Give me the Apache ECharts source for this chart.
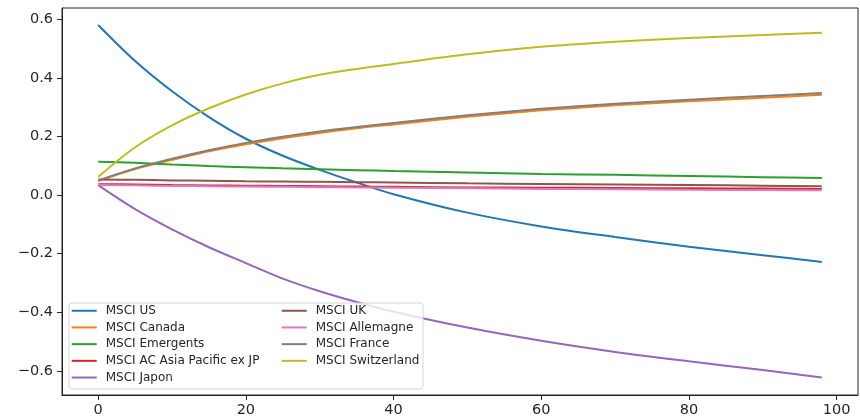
<!DOCTYPE html>
<html>
<head>
<meta charset="utf-8">
<script src="https://cdn.jsdelivr.net/npm/echarts@6/dist/echarts.min.js"></script>
<style>
  html, body { margin: 0; padding: 0; background: #fff; }
  #chart { width: 860px; height: 416px; }
</style>
</head>
<body>
<div id="chart"></div>
<script>
// Horizon (x) values at which each curve is sampled
const steps = [0, 5, 10, 15, 20, 25, 30, 35, 40, 50, 60, 70, 80, 90, 98];

const msciUS          = [0.580, 0.457, 0.354, 0.266, 0.192, 0.134, 0.086, 0.043, 0.003, -0.060, -0.107, -0.143, -0.176, -0.205, -0.228];
const msciCanada      = [0.048, 0.089, 0.120, 0.149, 0.173, 0.194, 0.212, 0.228, 0.241, 0.267, 0.289, 0.306, 0.320, 0.332, 0.342];
const msciEmergents   = [0.114, 0.110, 0.104, 0.099, 0.095, 0.091, 0.088, 0.085, 0.082, 0.077, 0.072, 0.069, 0.065, 0.061, 0.058];
const msciAsiaPacific = [0.037, 0.036, 0.034, 0.033, 0.032, 0.031, 0.030, 0.029, 0.028, 0.026, 0.025, 0.024, 0.023, 0.022, 0.021];
const msciJapon       = [0.034, -0.048, -0.117, -0.178, -0.232, -0.285, -0.328, -0.365, -0.398, -0.452, -0.497, -0.535, -0.567, -0.597, -0.622];
const msciUK          = [0.053, 0.052, 0.050, 0.049, 0.047, 0.046, 0.045, 0.044, 0.043, 0.040, 0.038, 0.036, 0.034, 0.032, 0.030];
const msciAllemagne   = [0.034, 0.033, 0.031, 0.030, 0.029, 0.028, 0.027, 0.026, 0.025, 0.023, 0.021, 0.020, 0.018, 0.017, 0.016];
const msciFrance      = [0.050, 0.091, 0.124, 0.153, 0.178, 0.199, 0.217, 0.232, 0.246, 0.272, 0.294, 0.311, 0.325, 0.338, 0.348];
const msciSwitzerland = [0.062, 0.163, 0.238, 0.296, 0.343, 0.381, 0.410, 0.430, 0.447, 0.480, 0.506, 0.523, 0.536, 0.546, 0.554];

const seriesNames = [
  'MSCI US', 'MSCI Canada', 'MSCI Emergents', 'MSCI AC Asia Pacific ex JP', 'MSCI Japon',
  'MSCI UK', 'MSCI Allemagne', 'MSCI France', 'MSCI Switzerland'
];
const seriesValues = [
  msciUS, msciCanada, msciEmergents, msciAsiaPacific, msciJapon,
  msciUK, msciAllemagne, msciFrance, msciSwitzerland
];

const xTicks = [0, 20, 40, 60, 80, 100];
const yTicks = [-0.6, -0.4, -0.2, 0.0, 0.2, 0.4, 0.6];

const palette = ['#1f77b4', '#ff7f0e', '#2ca02c', '#d62728', '#9467bd',
                 '#8c564b', '#e377c2', '#7f7f7f', '#bcbd22'];

const FONT = 'DejaVu Sans';
const INK = '#262626';

const series = seriesNames.map((name, i) => ({
  name: name,
  type: 'line',
  data: steps.map((x, j) => [x, seriesValues[i][j]]),
  smooth: 0.3,
  showSymbol: false,
  symbol: 'none',
  silent: true,
  lineStyle: { width: 2, color: palette[i] },
  itemStyle: { color: palette[i] },
  z: 2 + i * 0.01
}));

const legendText = {
  fontFamily: FONT, fontSize: 12, color: INK,
  lineHeight: 16.7, padding: [0, 0, 0, 4]
};
const legendIcon = 'path://M0,0H25V2H0Z';

const chart = echarts.init(document.getElementById('chart'), null, { renderer: 'canvas' });
chart.setOption({
  animation: false,
  backgroundColor: '#fff',
  color: palette,
  grid: {
    left: 62, right: 2, top: 8, bottom: 21,
    show: true, borderColor: INK, borderWidth: 1,
    containLabel: false, outerBoundsMode: 'none'
  },
  xAxis: {
    type: 'value',
    min: -4.9, max: 102.9,
    splitLine: { show: false },
    axisLine: { show: true, onZero: false, lineStyle: { color: INK, width: 1 } },
    axisTick: { show: true, length: 5, customValues: xTicks, lineStyle: { color: INK } },
    axisLabel: {
      customValues: xTicks, margin: 8,
      fontFamily: FONT, fontSize: 14.5, color: INK,
      formatter: v => String(Math.round(v))
    }
  },
  yAxis: {
    type: 'value',
    min: -0.682, max: 0.638,
    splitLine: { show: false },
    axisLine: { show: true, onZero: false, lineStyle: { color: INK, width: 1 } },
    axisTick: { show: true, length: 5, customValues: yTicks, lineStyle: { color: INK } },
    axisLabel: {
      customValues: yTicks, margin: 9,
      fontFamily: FONT, fontSize: 14.5, color: INK,
      formatter: v => (v < -1e-9 ? '\u2212' : '') + Math.abs(v).toFixed(1)
    }
  },
  legend: [
    {
      data: seriesNames.slice(0, 5),
      orient: 'vertical', left: 71.7, top: 302.4, padding: 0,
      itemGap: 0, itemWidth: 25, itemHeight: 2, icon: legendIcon,
      textStyle: legendText, selectedMode: false
    },
    {
      data: seriesNames.slice(5),
      orient: 'vertical', left: 281.7, top: 302.4, padding: 0,
      itemGap: 0, itemWidth: 25, itemHeight: 2, icon: legendIcon,
      textStyle: legendText, selectedMode: false
    }
  ],
  graphic: [{
    type: 'rect',
    z: 3,
    silent: true,
    shape: { x: 69, y: 303, width: 354, height: 86, r: 3 },
    style: { fill: 'rgba(255,255,255,0.8)', stroke: '#d6d6d6', lineWidth: 1 }
  }],
  series: series
});
</script>
</body>
</html>
